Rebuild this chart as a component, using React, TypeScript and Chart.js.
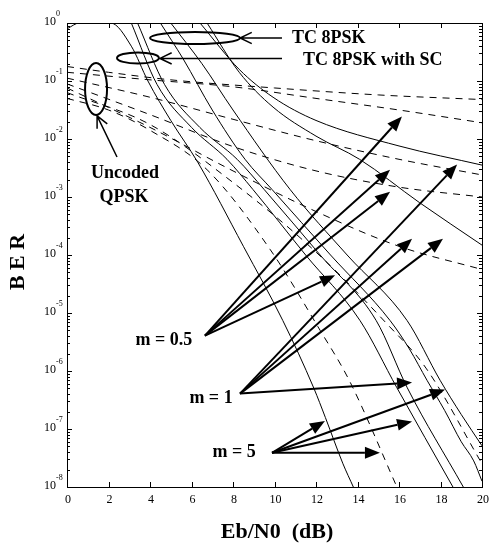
import React, { useEffect, useRef } from 'react';
import { Chart, registerables } from 'chart.js';
Chart.register(...registerables);

// x axis: Eb/N0 in dB; y values are log10(BER) (axis drawn as 10^k)
const xTickValues = [0, 2, 4, 6, 8, 10, 12, 14, 16, 18, 20];
const yDecades = [0, -1, -2, -3, -4, -5, -6, -7, -8];

// Uncoded QPSK (dashed) [dB, log10 BER]
const qpskA = [[0, -0.75], [2, -0.85], [5, -0.98], [10, -1.12], [15, -1.24], [20, -1.32]];
const qpskB = [[0, -0.85], [4, -0.98], [8, -1.1], [12, -1.3], [16, -1.5], [20, -1.72]];
const qpskC = [[0, -0.95], [4, -1.28], [8, -1.66], [12, -2.03], [16, -2.35], [20, -2.62]];
const qpskD = [[0, -1.05], [4, -1.58], [8, -2.13], [12, -2.55], [16, -2.83], [20, -3.0]];
const qpskE = [[0, -1.12], [4, -1.8], [8, -2.55], [12, -3.25], [16, -3.85], [20, -4.25]];
const qpskF = [[0, -1.3], [2, -1.5], [4, -1.85], [6.75, -2.53], [9.8, -3.91], [12.2, -5.3], [13.6, -6.16], [15.9, -8]];
const qpskG = [[0, -1.2], [4, -1.75], [8, -2.75], [12, -3.95], [15.4, -5.18], [17.3, -5.95], [20, -7.6]];

// TC 8PSK with SC (solid)
const scA = [[0, -0.1], [0.6, 0], [2.1, 0], [3.1, -0.4], [3.9, -1.0], [5, -1.68], [6.3, -2.4], [8.5, -3.85], [10.4, -5.13], [11.9, -6.3], [12.45, -6.8], [13.3, -7.6], [13.8, -8]];
const scB = [[3.1, 0], [4.34, -1.06], [6, -1.8], [7.71, -2.35], [8.96, -2.87], [11.5, -4.0], [14.12, -5.13], [15.9, -6.29], [18.6, -8]];
const scC = [[3.4, 0], [4.7, -1.06], [6.4, -1.8], [8.2, -2.35], [9.5, -2.87], [12.2, -4.0], [14.9, -5.13], [16.4, -6.29], [19.1, -8]];
// TC 8PSK (solid)
const tcA = [[4.5, 0], [5.6, -0.62], [7, -1.5], [8.58, -2.35], [9.88, -2.87], [12.7, -4.0], [15.57, -5.13], [16.5, -5.62], [17.35, -6.16], [18.2, -6.68], [19.0, -7.22], [19.6, -7.55], [20, -7.9]];
const tcB = [[5.0, 0], [6.5, -0.7], [8, -1.5], [10.75, -2.87], [13.5, -4.0], [16.39, -5.13], [17.98, -6.16], [19, -6.75], [20, -7.29]];
const tcC = [[6.41, 0], [8.3, -0.8], [9.93, -1.28], [12, -1.68], [16, -2.12], [20, -2.45]];
const tcD = [[6.75, 0], [8.3, -0.85], [9.93, -1.45], [12, -1.95], [14.1, -2.35], [17, -3.1], [20, -3.83]];

const dashedSeries = [qpskA, qpskB, qpskC, qpskD, qpskE, qpskF, qpskG];
const solidSeries = [scA, scB, scC, tcA, tcB, tcC, tcD];

// annotations in data units [dB, log10 BER]
const arrowGroups = [
  { label: 'm = 0.5', text: [4.67, -5.47], from: [6.65, -5.39], to: [[16.14, -1.61], [15.57, -2.53], [15.57, -2.91], [12.92, -4.35]] },
  { label: 'm = 1', text: [6.94, -6.48], from: [8.34, -6.39], to: [[18.8, -2.44], [16.63, -3.72], [18.12, -3.72], [16.63, -6.2]] },
  { label: 'm = 5', text: [8.05, -7.41], from: [9.88, -7.41], to: [[12.43, -6.86], [18.22, -6.32], [16.63, -6.87], [15.08, -7.41]] },
];
const ellipses = [
  { c: [6.17, -0.259], rx: 2.17, ry: 0.103 },
  { c: [3.42, -0.603], rx: 1.01, ry: 0.095 },
  { c: [1.4, -1.138], rx: 0.53, ry: 0.448 },
];
const pointers = [
  { from: [10.36, -0.259], to: [8.34, -0.259] },
  { from: [10.36, -0.61], to: [4.48, -0.61] },
  { from: [2.41, -2.31], to: [1.45, -1.6] },
];
const labels = [
  { text: 'TC 8PSK', at: [10.84, -0.259], align: 'left' },
  { text: 'TC 8PSK with SC', at: [11.37, -0.64], align: 'left' },
  { text: 'Uncoded', at: [2.8, -2.59], align: 'center' },
  { text: 'QPSK', at: [2.75, -3.0], align: 'center' },
];

const SERIF = '"Liberation Serif", "Times New Roman", serif';

const decorPlugin = {
  id: 'decor',
  afterDatasetsDraw(chart: any) {
    const { ctx, chartArea: a, scales } = chart;
    const px = (v: number) => scales.x.getPixelForValue(v);
    const py = (v: number) => scales.y.getPixelForValue(v);
    ctx.save();
    ctx.strokeStyle = '#000';
    ctx.fillStyle = '#000';
    ctx.lineWidth = 1;
    ctx.setLineDash([]);
    // frame
    ctx.strokeRect(Math.round(a.left) + 0.5, Math.round(a.top) + 0.5, Math.round(a.right - a.left), Math.round(a.bottom - a.top));
    // y ticks
    ctx.beginPath();
    yDecades.forEach((d) => {
      const y = Math.round(py(d)) + 0.5;
      ctx.moveTo(a.left, y); ctx.lineTo(a.left + 5, y);
      ctx.moveTo(a.right, y); ctx.lineTo(a.right - 5, y);
      if (d > -8) {
        for (let k = 2; k <= 9; k++) {
          const yy = Math.round(py(d - 1 + Math.log10(k))) + 0.5;
          ctx.moveTo(a.left, yy); ctx.lineTo(a.left + 3, yy);
          ctx.moveTo(a.right, yy); ctx.lineTo(a.right - 3, yy);
        }
      }
    });
    xTickValues.forEach((v) => {
      const x = Math.round(px(v)) + 0.5;
      ctx.moveTo(x, a.bottom); ctx.lineTo(x, a.bottom - 5);
      ctx.moveTo(x, a.top); ctx.lineTo(x, a.top + 5);
    });
    ctx.stroke();
    // y tick labels
    yDecades.forEach((d) => {
      const y = py(d);
      ctx.font = `12px ${SERIF}`;
      ctx.textAlign = 'right';
      ctx.textBaseline = 'middle';
      ctx.fillText('10', a.left - 11, y - 1);
      ctx.font = `8px ${SERIF}`;
      ctx.textAlign = 'left';
      ctx.fillText(d === 0 ? '0' : String(d), a.left - 11, y - 9);
    });
    // x tick labels
    ctx.font = `12px ${SERIF}`;
    ctx.textAlign = 'center';
    ctx.textBaseline = 'middle';
    xTickValues.forEach((v) => ctx.fillText(String(v), px(v) + 1, a.bottom + 13));
    // axis titles
    ctx.font = `bold 22px ${SERIF}`;
    ctx.fillText('Eb/N0  (dB)', 277, 532);
    ctx.save();
    ctx.translate(18, 262);
    ctx.rotate(-Math.PI / 2);
    ctx.fillText('B E R', 0, 0);
    ctx.restore();

    // ellipses
    ctx.lineWidth = 2;
    ellipses.forEach((e) => {
      const cx = px(e.c[0]), cy = py(e.c[1]);
      const rx = Math.abs(px(e.c[0] + e.rx) - cx), ry = Math.abs(py(e.c[1] + e.ry) - cy);
      ctx.beginPath();
      ctx.ellipse(cx, cy, rx, ry, 0, 0, Math.PI * 2);
      ctx.stroke();
    });
    // pointers with open heads
    ctx.lineWidth = 1.5;
    pointers.forEach((p) => {
      const x0 = px(p.from[0]), y0 = py(p.from[1]);
      const x1 = px(p.to[0]), y1 = py(p.to[1]);
      const ang = Math.atan2(y1 - y0, x1 - x0);
      ctx.beginPath();
      ctx.moveTo(x0, y0); ctx.lineTo(x1, y1);
      const h = 13, spread = 0.45;
      ctx.moveTo(x1 - h * Math.cos(ang - spread), y1 - h * Math.sin(ang - spread));
      ctx.lineTo(x1, y1);
      ctx.lineTo(x1 - h * Math.cos(ang + spread), y1 - h * Math.sin(ang + spread));
      ctx.stroke();
    });
    // filled arrows
    ctx.lineWidth = 2;
    arrowGroups.forEach((g) => {
      const x0 = px(g.from[0]), y0 = py(g.from[1]);
      g.to.forEach((t) => {
        const x1 = px(t[0]), y1 = py(t[1]);
        const ang = Math.atan2(y1 - y0, x1 - x0);
        const head = 15, w = 6;
        const bx = x1 - head * Math.cos(ang), by = y1 - head * Math.sin(ang);
        ctx.beginPath(); ctx.moveTo(x0, y0); ctx.lineTo(bx, by); ctx.stroke();
        ctx.beginPath();
        ctx.moveTo(x1, y1);
        ctx.lineTo(bx + w * Math.sin(ang), by - w * Math.cos(ang));
        ctx.lineTo(bx - w * Math.sin(ang), by + w * Math.cos(ang));
        ctx.closePath();
        ctx.fill();
      });
      ctx.font = `bold 18px ${SERIF}`;
      ctx.textAlign = 'center';
      ctx.textBaseline = 'middle';
      ctx.fillText(g.label, px(g.text[0]), py(g.text[1]));
    });
    // text labels
    ctx.font = `bold 18px ${SERIF}`;
    ctx.textBaseline = 'middle';
    labels.forEach((l) => {
      ctx.textAlign = l.align as CanvasTextAlign;
      ctx.fillText(l.text, px(l.at[0]), py(l.at[1]));
    });
    ctx.restore();
  },
};

export default function App() {
  const ref = useRef<HTMLCanvasElement>(null);
  useEffect(() => {
    if (!ref.current) return;
    const toPts = (s: number[][]) => s.map(([x, y]) => ({ x, y }));
    const datasets: any[] = [];
    dashedSeries.forEach((s) => datasets.push({
      data: toPts(s), borderColor: '#000', borderWidth: 1, borderDash: [7, 6],
      pointRadius: 0, cubicInterpolationMode: 'monotone', fill: false,
    }));
    solidSeries.forEach((s) => datasets.push({
      data: toPts(s), borderColor: '#000', borderWidth: 1,
      pointRadius: 0, cubicInterpolationMode: 'monotone', fill: false,
    }));
    const chart = new Chart(ref.current, {
      type: 'line',
      data: { datasets },
      options: {
        responsive: false,
        animation: false,
        devicePixelRatio: 1,
        layout: { padding: { left: 67, top: 23, right: 8, bottom: 63 } },
        plugins: { legend: { display: false }, tooltip: { enabled: false } },
        scales: {
          x: { type: 'linear', min: 0, max: 20, display: false },
          y: { type: 'linear', min: -8, max: 0, display: false },
        },
      },
      plugins: [decorPlugin],
    });
    return () => chart.destroy();
  }, []);
  return (
    <div style={{ position: 'absolute', left: 0, top: 0, width: 490, height: 550, background: '#fff' }}>
      <canvas ref={ref} width={490} height={550} />
    </div>
  );
}
